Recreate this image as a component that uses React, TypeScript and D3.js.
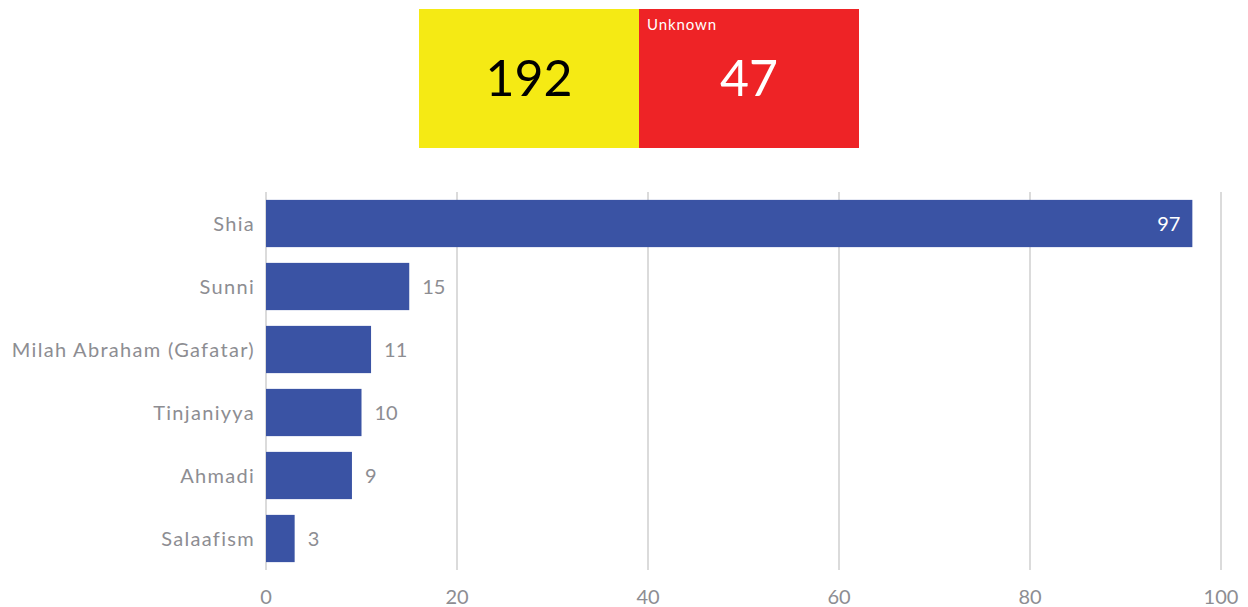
import React from "react";
import * as d3 from "d3";

const categories = ["Shia", "Sunni", "Milah Abraham (Gafatar)", "Tinjaniyya", "Ahmadi", "Salaafism"];
const values = [97, 15, 11, 10, 9, 3];
const xTicks = [0, 20, 40, 60, 80, 100];
const summaryLabels = ["", "Unknown"];
const summaryValues = [192, 47];
const summaryColors = ["#F5EA14", "#EE2326"];
const summaryTextColors = ["#000000", "#ffffff"];

const W = 1248;
const H = 607;
const FONT = "Lato, 'Noto Sans', sans-serif";
const GREY = "#8d8d92";

export default function App() {
  const x = d3.scaleLinear().domain([0, 100]).range([266, 1221]);
  const y = d3.scaleBand<string>().domain(categories).range([192, 570]).paddingInner(0.25).paddingOuter(0.125);
  const sx = d3.scaleBand<number>().domain(d3.range(summaryValues.length)).range([419, 859]);

  return (
    <svg width={W} height={H} style={{ position: "absolute", left: 0, top: 0, background: "#fff" }}>
      {summaryValues.map((v, i) => (
        <g key={i}>
          <rect x={sx(i)} y={9} width={sx.bandwidth()} height={139} fill={summaryColors[i]} />
          {summaryLabels[i] && (
            <text x={(sx(i) as number) + 8} y={30} fill="#fff" fontSize={15} letterSpacing={0.9} fontFamily={FONT}>{summaryLabels[i]}</text>
          )}
          <text x={(sx(i) as number) + sx.bandwidth() / 2} y={96} textAnchor="middle" fill={summaryTextColors[i]} fontSize={50} fontFamily={FONT} fontWeight={400}>{v}</text>
        </g>
      ))}
      {xTicks.map((t) => (
        <g key={t}>
          <line x1={x(t)} x2={x(t)} y1={192} y2={570} stroke="#cfcfcf" strokeWidth={1.5} />
          <text x={x(t)} y={604} textAnchor="middle" fill={GREY} fontSize={20} fontFamily={FONT}>{t}</text>
        </g>
      ))}
      {categories.map((c, i) => {
        const yy = y(c) as number;
        const bw = y.bandwidth();
        const inside = values[i] > 50;
        return (
          <g key={c}>
            <rect x={x(0)} y={yy} width={x(values[i]) - x(0)} height={bw} fill="#3A53A4" />
            <text x={255} y={yy + bw / 2} dy="0.35em" textAnchor="end" fill={GREY} fontSize={20} letterSpacing={1.3} fontFamily={FONT}>{c}</text>
            <text
              x={inside ? x(values[i]) - 12 : x(values[i]) + 13}
              y={yy + bw / 2}
              dy="0.35em"
              textAnchor={inside ? "end" : "start"}
              fill={inside ? "#fff" : GREY}
              fontSize={20}
              fontFamily={FONT}
            >{values[i]}</text>
          </g>
        );
      })}
    </svg>
  );
}
